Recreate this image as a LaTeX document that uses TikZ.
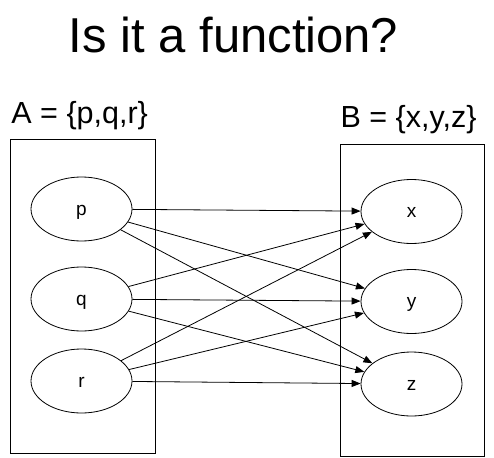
\documentclass[tikz,border=0pt]{standalone}
\usepackage{fontspec}
\setmainfont{Liberation Sans}
\usetikzlibrary{shapes.geometric,arrows.meta}
\begin{document}
\begin{tikzpicture}[x=1pt,y=-1pt,
  setbox/.style={draw=black,line width=1pt},
  elem/.style={draw=black,ellipse,line width=0.8pt,minimum width=101pt,minimum height=64pt,inner sep=0pt,font=\fontsize{19}{21}\selectfont,text height=12pt,text depth=0pt},
  mapto/.style={line width=0.8pt,-{Triangle[length=9pt,width=7pt]}},
  settitle/.style={font=\fontsize{30.5}{34}\selectfont,anchor=base,inner sep=0pt}]
\useasboundingbox (0,0) rectangle (494,457);
\node[anchor=base,inner sep=0pt,font=\fontsize{49}{54}\selectfont] (title) at (233.5,53) {Is it a function?};
\node[settitle] (la) at (79.7,124) {A = \{p,q,r\}};
\node[settitle] (lb) at (408.5,128) {B = \{x,y,z\}};
\draw[setbox] (10.5,139) rectangle (155.5,453);
\draw[setbox] (340.5,144) rectangle (484,456);
\node[elem] (p) at (81.5,209) {p};
\node[elem] (q) at (81.5,299) {q};
\node[elem] (r) at (81.5,381) {r};
\node[elem] (x) at (411.5,211.5) {x};
\node[elem] (y) at (411.5,301.5) {y};
\node[elem] (z) at (411.5,384) {z};
\foreach \s in {p,q,r}{
  \foreach \t in {x,y,z}{
    \draw[mapto] (\s) -- (\t);
  }
}
\end{tikzpicture}
\end{document}
